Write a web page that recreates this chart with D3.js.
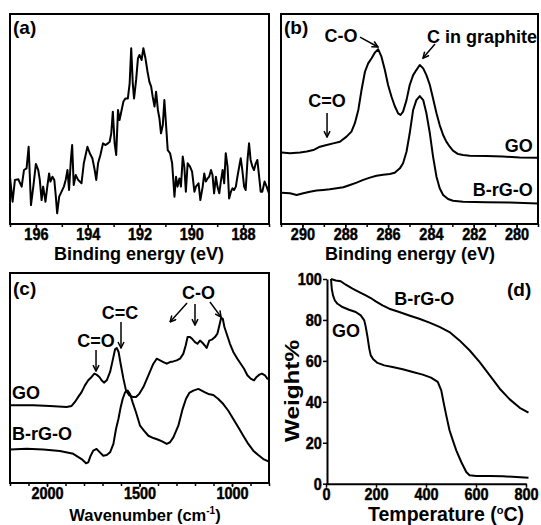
<!DOCTYPE html>
<html lang="en">
<head>
<meta charset="UTF-8">
<title>XPS, FTIR and TGA panels</title>
<script src="https://d3js.org/d3.v7.min.js"></script>
<style>
  body { margin: 0; background: #fff; }
  svg text { font-family: "Liberation Sans", Arial, sans-serif; font-weight: bold; fill: #000; }
</style>
</head>
<body>
<div id="chart"></div>
<script>
// (a) B 1s XPS spectrum
const aEnergy = [197.00,196.90,196.81,196.68,196.55,196.46,196.36,196.28,196.19,196.10,
  196.00,195.91,195.85,195.78,195.72,195.63,195.56,195.49,195.44,195.36,
  195.29,195.23,195.18,195.10,195.01,194.92,194.85,194.78,194.72,194.65,
  194.60,194.54,194.46,194.37,194.24,194.15,194.01,193.92,193.82,193.73,
  193.67,193.60,193.51,193.41,193.31,193.22,193.15,193.09,193.03,192.96,
  192.90,192.83,192.77,192.69,192.62,192.54,192.45,192.38,192.32,192.26,
  192.21,192.13,192.06,192.00,191.92,191.85,191.77,191.69,191.62,191.55,
  191.49,191.42,191.36,191.29,191.23,191.17,191.10,191.04,190.97,190.91,
  190.82,190.74,190.65,190.59,190.53,190.46,190.40,190.33,190.27,190.21,
  190.14,190.05,189.97,189.88,189.82,189.72,189.65,189.56,189.50,189.44,
  189.37,189.31,189.24,189.18,189.12,189.05,188.99,188.92,188.86,188.79,
  188.73,188.67,188.60,188.54,188.47,188.41,188.35,188.28,188.22,188.15,
  188.09,188.03,187.96,187.90,187.83,187.77,187.71,187.64,187.58,187.51,
  187.45,187.38,187.32,187.26,187.17,187.09,187.00];
const aCounts = [22.5,10.6,21.0,21.3,17.8,25.7,26.5,36.8,9.0,17.8,
  28.6,25.7,21.0,11.4,17.8,10.6,17.8,24.1,20.2,22.5,
  21.0,13.0,5.1,13.0,15.4,17.8,21.0,25.7,16.2,30.5,
  37.6,18.6,23.3,21.0,19.4,28.9,36.8,33.7,31.3,25.7,
  21.0,28.9,32.9,38.4,37.6,38.4,39.2,43.2,53.5,38.4,
  32.9,54.3,49.5,54.3,58.3,59.8,59.8,67.0,83.7,67.0,
  59.8,68.6,78.9,80.5,78.1,83.7,78.9,72.5,67.8,65.4,
  60.6,55.9,63.0,54.3,50.3,43.2,47.1,59.0,46.3,35.2,
  33.7,28.9,13.0,22.5,17.8,21.7,17.8,32.1,27.3,15.4,
  28.9,27.3,24.9,15.4,17.8,19.4,11.4,17.8,24.1,20.2,
  21.7,22.5,25.7,23.3,14.6,22.5,17.8,14.6,20.2,25.7,
  19.4,33.7,27.3,12.2,15.4,17.0,16.2,17.8,22.5,27.3,
  31.3,25.7,17.8,16.2,30.5,38.4,30.5,27.3,25.7,28.9,
  30.5,22.5,15.4,15.4,20.2,17.8,14.6];
const aTicks = [196, 194, 192, 190, 188];

// (b) C 1s XPS spectra
const bGoEnergy = [290.97,290.58,290.11,289.80,289.49,289.18,288.87,288.56,288.25,287.94,
  287.71,287.55,287.39,287.24,287.08,286.93,286.77,286.62,286.46,286.31,
  286.15,286.00,285.84,285.69,285.53,285.42,285.30,285.14,284.99,284.83,
  284.68,284.52,284.36,284.21,284.05,283.90,283.74,283.59,283.43,283.28,
  283.12,282.97,282.73,282.50,282.19,281.41,280.64,279.86,279.00];
const bGoIntensity = [34.0,33.7,34.0,34.5,35.2,36.8,37.6,38.4,39.2,41.6,
  44.0,48.0,54.3,63.8,72.5,76.5,78.9,81.6,83.2,79.7,
  73.3,66.2,60.6,56.2,52.7,51.9,53.5,59.0,66.2,70.9,
  73.3,75.7,74.1,70.9,66.2,59.8,52.7,47.1,42.4,39.2,
  36.8,34.9,33.3,32.9,32.5,32.4,32.1,31.7,31.6];
const bRgoEnergy = [290.97,290.58,290.27,289.96,289.65,289.34,289.03,288.72,288.40,288.09,
  287.78,287.47,287.16,286.85,286.54,286.23,285.92,285.69,285.45,285.30,
  285.14,284.99,284.83,284.68,284.52,284.36,284.21,284.05,283.90,283.74,
  283.59,283.43,283.20,282.97,282.50,281.41,280.32,279.00];
const bRgoIntensity = [14.9,14.6,13.8,14.6,15.4,15.9,16.2,16.5,17.0,17.5,
  18.6,19.7,21.0,22.1,23.0,23.5,23.8,24.4,26.5,28.9,
  34.4,43.2,54.3,59.0,60.9,59.0,52.7,43.2,32.1,22.5,
  17.0,13.8,11.9,11.1,10.6,10.3,10.2,9.8];
const bTicks = [290, 288, 286, 284, 282, 280];

// (c) FTIR spectra
const cGoWave = [2200,2074,1984,1894,1867,1849,1831,1813,1795,1777,
  1759,1744,1732,1717,1705,1692,1677,1659,1645,1632,
  1623,1613,1602,1587,1573,1555,1537,1519,1501,1479,
  1452,1425,1407,1389,1371,1353,1335,1317,1299,1281,
  1263,1250,1240,1227,1213,1200,1187,1173,1160,1148,
  1137,1123,1106,1092,1079,1068,1059,1050,1041,1029,
  1011,993,971,953,935,917,899,881,867,852,
  838,822,809,800];
const cGoIntensity = [37.0,37.0,36.7,36.2,36.7,38.6,41.0,43.3,46.5,48.9,
  50.5,52.1,51.6,50.5,48.9,47.8,48.9,52.9,58.4,63.7,
  64.3,62.4,56.8,49.7,44.1,41.7,41.0,41.0,42.5,45.7,
  51.3,56.8,59.2,58.4,57.6,56.8,57.6,57.9,58.4,59.2,
  61.6,65.6,69.5,69.5,68.4,67.1,66.3,67.8,66.8,65.6,
  64.3,67.8,68.4,69.5,71.1,75.1,78.6,78.3,74.3,71.1,
  66.3,62.4,59.2,56.8,54.4,51.3,49.7,48.9,50.5,51.6,
  52.1,51.3,49.7,49.4];
const cRgoWave = [2200,2110,2020,1930,1858,1813,1789,1777,1764,1750,
  1732,1714,1696,1677,1659,1641,1627,1614,1602,1591,
  1578,1564,1551,1537,1519,1497,1476,1452,1425,1398,
  1375,1353,1335,1317,1290,1267,1249,1231,1209,1182,
  1164,1146,1128,1101,1074,1047,1020,993,966,939,
  912,885,858,831,800];
const cRgoIntensity = [16.0,16.3,16.0,15.2,13.9,11.4,9.4,9.8,13.0,15.4,
  16.2,14.6,13.0,13.3,14.6,18.6,25.7,30.5,36.0,40.0,
  43.2,44.0,42.4,38.4,33.7,27.3,24.9,22.5,21.4,20.6,
  19.7,18.6,19.4,21.7,27.3,35.2,40.0,42.9,44.0,44.8,
  44.0,43.2,42.4,41.9,40.0,37.6,34.4,30.5,26.5,22.5,
  18.6,15.4,13.3,11.4,10.2];
const cTicks = [2000, 1500, 1000];

// (d) TGA curves
const dGoTemp = [20,23,28,35,46,66,92,119,139,153,
  159,166,173,179,189,206,233,266,307,347,
  387,420,447,461,470,481,494,505,521,541,
  561,574,601,655,708,762,810];
const dGoWeight = [100,95.3,92.0,89.6,87.9,86.3,85.0,83.9,82.2,79.8,
  76.6,71.7,66.0,62.7,60.8,59.0,57.8,57.0,55.9,54.6,
  53.3,51.8,49.7,45.6,39.9,33.4,26.1,22.0,16.3,10.6,
  5.7,4.1,3.8,3.8,3.6,3.3,2.9];
const dRgoTemp = [20,39,59,79,106,133,159,179,199,226,
  253,293,333,373,414,454,494,534,574,614,
  655,695,735,775,810];
const dRgoWeight = [100,99.3,98.9,97.2,95.3,93.6,92.0,90.7,89.1,87.1,
  85.5,83.9,82.2,80.6,78.7,76.6,74.1,70.0,65.2,59.5,
  52.9,46.4,41.2,37.1,34.7];
const dxTicks = [0, 200, 400, 600, 800];
const dyTicks = [0, 20, 40, 60, 80, 100];

const svg = d3.select('#chart').append('svg')
  .attr('width', 541)
  .attr('height', 525);

svg.append('defs').append('marker')
  .attr('id', 'arrow')
  .attr('viewBox', '0 0 10 10')
  .attr('refX', 9).attr('refY', 5)
  .attr('markerWidth', 5).attr('markerHeight', 5)
  .attr('orient', 'auto')
  .append('path')
  .attr('d', 'M1,1 L9,5 L1,9')
  .attr('fill', 'none')
  .attr('stroke', '#000')
  .attr('stroke-width', 2);

// tick labels in the figure are tall, narrow and heavy: squeeze and thicken them
function styleAxis(ax, hideDomain) {
  ax.attr('font-family', null).attr('font-size', null);
  ax.selectAll('text')
    .style('font-family', '"Liberation Sans", Arial, sans-serif')
    .style('font-weight', 'bold')
    .style('font-size', '17px')
    .attr('fill', '#000')
    .attr('stroke', '#000')
    .attr('stroke-width', 0.5)
    .attr('transform', 'scale(0.85,1)');
  ax.selectAll('line').attr('stroke', '#000').attr('stroke-width', 1.5);
  if (hideDomain) ax.select('.domain').remove();
  else ax.select('.domain').attr('stroke-width', 2);
}

function drawLine(g, x, y, xs, ys) {
  g.append('path')
    .datum(d3.zip(xs, ys))
    .attr('fill', 'none')
    .attr('stroke', '#000')
    .attr('stroke-width', 2)
    .attr('stroke-linejoin', 'round')
    .attr('d', d3.line().x(d => x(d[0])).y(d => y(d[1])));
}

function arrow(g, x1, y1, x2, y2) {
  g.append('line')
    .attr('x1', x1).attr('y1', y1).attr('x2', x2).attr('y2', y2)
    .attr('stroke', '#000').attr('stroke-width', 1.5)
    .attr('marker-end', 'url(#arrow)');
}

function label(g, px, py, txt, size, anchor) {
  return g.append('text')
    .attr('x', px).attr('y', py)
    .attr('text-anchor', anchor || 'start')
    .style('font-size', size + 'px')
    .text(txt);
}

// framed panel with bottom axis (a, b, c)
function framedPanel(id, left, top, right, bottom, xDomain, yDomain, ticks, minor) {
  const x = d3.scaleLinear().domain(xDomain).range([left, right]);
  const y = d3.scaleLinear().domain(yDomain).range([bottom, top]);
  const g = svg.append('g');
  g.append('clipPath').attr('id', 'clip-' + id)
    .append('rect').attr('x', left).attr('y', top)
    .attr('width', right - left).attr('height', bottom - top);
  const plot = g.append('g').attr('clip-path', `url(#clip-${id})`);

  const minorAx = g.append('g').attr('transform', `translate(0,${bottom})`)
    .call(d3.axisBottom(x).tickValues(minor).tickSize(3).tickFormat('').tickSizeOuter(0));
  styleAxis(minorAx, true);
  const ax = g.append('g').attr('transform', `translate(0,${bottom})`)
    .call(d3.axisBottom(x).tickValues(ticks).tickSize(4).tickPadding(0)
      .tickFormat(d3.format('d')).tickSizeOuter(0));
  styleAxis(ax, true);

  g.append('rect')
    .attr('x', left).attr('y', top)
    .attr('width', right - left).attr('height', bottom - top)
    .attr('fill', 'none').attr('stroke', '#000').attr('stroke-width', 2);
  return { g, plot, x, y };
}

// ---- (a)
const pa = framedPanel('a', 10, 14, 269, 224, [197, 187], [0, 100], aTicks, d3.range(197, 186, -1));
drawLine(pa.plot, pa.x, pa.y, aEnergy, aCounts);
label(pa.g, 13, 34, '(a)', 19);
label(pa.g, 139, 260, 'Binding energy (eV)', 18, 'middle');

// ---- (b)
const pb = framedPanel('b', 281, 14, 538, 224, [291, 279], [0, 100], bTicks, d3.range(291, 278, -1));
drawLine(pb.plot, pb.x, pb.y, bGoEnergy, bGoIntensity);
drawLine(pb.plot, pb.x, pb.y, bRgoEnergy, bRgoIntensity);
label(pb.g, 284, 34, '(b)', 19);
label(pb.g, pb.x(288.2), pb.y(86.7), 'C-O', 18, 'middle');
arrow(pb.g, pb.x(287.31), pb.y(89.0), pb.x(286.47), pb.y(84.3));
label(pb.g, pb.x(279.05), pb.y(86.2), 'C in graphite', 18, 'end');
arrow(pb.g, pb.x(283.81), pb.y(85.7), pb.x(284.37), pb.y(79.0));
label(pb.g, pb.x(288.85), pb.y(55.7), 'C=O', 18, 'middle');
arrow(pb.g, pb.x(288.85), pb.y(52.9), pb.x(288.85), pb.y(41.4));
label(pb.g, pb.x(279.24), pb.y(34.3), 'GO', 18, 'end');
label(pb.g, pb.x(279.24), pb.y(13.3), 'B-rG-O', 18, 'end');
label(pb.g, 410, 260, 'Binding energy (eV)', 18, 'middle');

// ---- (c)
const pc = framedPanel('c', 10, 273, 269, 483, [2200, 800], [0, 100], cTicks, d3.range(2200, 799, -100));
drawLine(pc.plot, pc.x, pc.y, cGoWave, cGoIntensity);
drawLine(pc.plot, pc.x, pc.y, cRgoWave, cRgoIntensity);
label(pc.g, 13, 295, '(c)', 19);
label(pc.g, pc.x(1735), pc.y(64.8), 'C=O', 18, 'middle');
arrow(pc.g, pc.x(1735), pc.y(63.3), pc.x(1735), pc.y(53.3));
label(pc.g, pc.x(1605), pc.y(78.1), 'C=C', 18, 'middle');
arrow(pc.g, pc.x(1600), pc.y(76.7), pc.x(1600), pc.y(64.3));
label(pc.g, pc.x(1181), pc.y(87.6), 'C-O', 18, 'middle');
arrow(pc.g, pc.x(1243), pc.y(85.7), pc.x(1335), pc.y(76.7));
arrow(pc.g, pc.x(1200), pc.y(85.2), pc.x(1200), pc.y(75.2));
arrow(pc.g, pc.x(1119), pc.y(86.2), pc.x(1059), pc.y(79.0));
label(pc.g, pc.x(2189), pc.y(40), 'GO', 18);
label(pc.g, pc.x(2189), pc.y(20.5), 'B-rG-O', 18);
const ct = label(pc.g, 145, 521, 'Wavenumber (cm', 16.5, 'middle');
ct.append('tspan').attr('dy', -7).style('font-size', '10px').text('-1');
ct.append('tspan').attr('dy', 7).text(')');

// ---- (d)
const dx = d3.scaleLinear().domain([0, 800]).range([326, 526]);
const dy = d3.scaleLinear().domain([0, 100]).range([483.7, 279]);
const gd = svg.append('g');
const dxAx = gd.append('g').attr('transform', 'translate(0,483.7)')
  .call(d3.axisBottom(dx).tickValues(dxTicks).tickSize(4).tickPadding(0).tickSizeOuter(0));
styleAxis(dxAx, false);
const dyAx = gd.append('g').attr('transform', 'translate(327,0)')
  .call(d3.axisLeft(dy).tickValues(dyTicks).tickSize(4).tickPadding(2).tickSizeOuter(0));
styleAxis(dyAx, false);
drawLine(gd, dx, dy, dGoTemp, dGoWeight);
drawLine(gd, dx, dy, dRgoTemp, dRgoWeight);
label(gd, 507, 296, '(d)', 19);
label(gd, dx(273), dy(87.3), 'B-rG-O', 18);
label(gd, dx(24), dy(71.7), 'GO', 18);
label(gd, 292, 391, 'Weight%', 20, 'middle')
  .attr('transform', 'rotate(-90,292,391)')
  .attr('dy', '0.35em')
  .attr('textLength', 102)
  .attr('lengthAdjust', 'spacingAndGlyphs');
const dt = label(gd, 446, 521, 'Temperature (', 19.5, 'middle');
dt.append('tspan').attr('dy', -7).style('font-size', '11px').text('o');
dt.append('tspan').attr('dy', 7).text('C)');
</script>
</body>
</html>
